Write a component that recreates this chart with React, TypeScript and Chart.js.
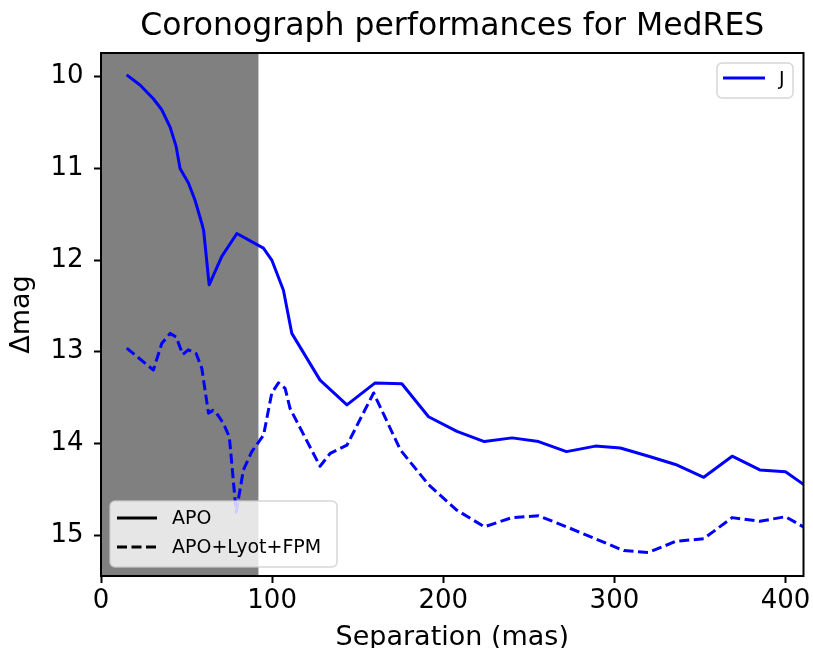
import React, { useEffect, useRef } from "react";
import { Chart, registerables } from "chart.js";

Chart.register(...registerables);

const titleText = "Coronograph performances for MedRES";
const xLabel = "Separation (mas)";
const yLabel = "Δmag";
const xTicks = [0, 100, 200, 300, 400];
const yTicks = [10, 11, 12, 13, 14, 15];
const xRange = [0, 410.5];
const yRange = [9.741, 15.447];
const maskedSeparation = 92;

// APO (solid)
const apoSep = [15, 22.8, 30.6, 35.5, 40.4, 43.9, 46.2, 51.1, 55, 58.9, 60, 63.2, 70.6, 79.4, 94.9, 99.8, 106.6, 111.5, 128, 143.7, 160.2, 175.8, 191.4, 208, 224, 240.2, 255.7, 272, 288.9, 303.5, 320, 335.7, 352.2, 368.8, 385, 400, 416];
const apoMag = [9.98, 10.09, 10.24, 10.36, 10.55, 10.76, 11.0, 11.16, 11.35, 11.6, 11.68, 12.27, 11.96, 11.71, 11.87, 12.0, 12.33, 12.8, 13.31, 13.58, 13.34, 13.35, 13.71, 13.87, 13.98, 13.94, 13.98, 14.09, 14.03, 14.05, 14.14, 14.23, 14.37, 14.14, 14.29, 14.31, 14.52];

// APO+Lyot+FPM (dashed)
const fpmSep = [15, 30.6, 35.5, 40.4, 43.9, 47.8, 51, 55.6, 58.9, 62.8, 65.5, 67.5, 71.5, 75, 79, 83.2, 88.1, 95, 99.8, 103.7, 107.6, 110.5, 128, 133.9, 143.7, 159.3, 174.9, 191.4, 208, 224, 240.2, 255.7, 272, 290, 305.5, 320, 335.7, 352.2, 368.8, 385, 400, 416];
const fpmMag = [12.96, 13.2, 12.91, 12.8, 12.84, 13.03, 12.98, 13.02, 13.18, 13.67, 13.64, 13.67, 13.78, 13.93, 14.75, 14.29, 14.09, 13.91, 13.45, 13.34, 13.4, 13.62, 14.25, 14.11, 14.02, 13.45, 14.07, 14.45, 14.73, 14.91, 14.81, 14.79, 14.91, 15.05, 15.17, 15.19, 15.07, 15.04, 14.81, 14.85, 14.8, 14.97];

const bandLegend = ["J"];
const styleLegend = ["APO", "APO+Lyot+FPM"];

const FONT = "'DejaVu Sans', sans-serif";
const BLUE = "#0000ff";
const LW = 3;
const DASH = [10, 4.5];

function legendBox(ctx: CanvasRenderingContext2D, x: number, y: number, w: number, h: number) {
  ctx.save();
  ctx.beginPath();
  (ctx as any).roundRect(x, y, w, h, 5);
  ctx.fillStyle = "rgba(255,255,255,0.8)";
  ctx.fill();
  ctx.strokeStyle = "rgba(204,204,204,0.8)";
  ctx.lineWidth = 1.5;
  ctx.stroke();
  ctx.restore();
}

const decorPlugin = {
  id: "decor",
  beforeDraw(chart: any) {
    const { ctx, chartArea: a, scales } = chart;
    const x0 = scales.x.getPixelForValue(0);
    const x1 = scales.x.getPixelForValue(maskedSeparation);
    ctx.save();
    ctx.fillStyle = "#808080";
    ctx.fillRect(x0, a.top, x1 - x0, a.bottom - a.top);
    ctx.restore();
  },
  afterDatasetsDraw(chart: any) {
    const { ctx, chartArea: a } = chart;
    ctx.save();
    ctx.font = `19px ${FONT}`;
    ctx.textBaseline = "middle";
    ctx.textAlign = "left";
    // band legend (upper right)
    const bw = 76, bh = 35;
    const bx = a.right - 10.5 - bw, by = a.top + 10;
    legendBox(ctx, bx, by, bw, bh);
    ctx.strokeStyle = BLUE;
    ctx.lineWidth = LW;
    ctx.beginPath();
    ctx.moveTo(bx + 6, by + 15);
    ctx.lineTo(bx + 48, by + 15);
    ctx.stroke();
    ctx.fillStyle = "#000";
    ctx.fillText(bandLegend[0], bx + 62, by + 17);
    // style legend (lower left)
    const lw = 227, lh = 66;
    const lx = a.left + 9, ly = a.bottom - 9 - lh;
    legendBox(ctx, lx, ly, lw, lh);
    ctx.strokeStyle = "#000";
    ctx.lineWidth = LW;
    ctx.beginPath();
    ctx.moveTo(lx + 7, ly + 17);
    ctx.lineTo(lx + 47, ly + 17);
    ctx.stroke();
    ctx.setLineDash(DASH);
    ctx.beginPath();
    ctx.moveTo(lx + 7, ly + 46);
    ctx.lineTo(lx + 47, ly + 46);
    ctx.stroke();
    ctx.setLineDash([]);
    ctx.fillStyle = "#000";
    ctx.fillText(styleLegend[0], lx + 62, ly + 18);
    ctx.fillText(styleLegend[1], lx + 62, ly + 47);
    ctx.restore();
  },
  afterDraw(chart: any) {
    const { ctx, chartArea: a } = chart;
    ctx.save();
    ctx.strokeStyle = "#000";
    ctx.lineWidth = 2;
    ctx.strokeRect(a.left, a.top, a.right - a.left, a.bottom - a.top);
    ctx.restore();
  },
};

export default function App() {
  const ref = useRef<HTMLCanvasElement | null>(null);
  useEffect(() => {
    if (!ref.current) return;
    const chart = new Chart(ref.current, {
      type: "line",
      data: {
        datasets: [
          {
            label: styleLegend[0],
            data: apoSep.map((x, i) => ({ x, y: apoMag[i] })),
            borderColor: BLUE,
            borderWidth: LW,
            pointRadius: 0,
            tension: 0,
            fill: false,
            borderJoinStyle: "round",
            clip: 0,
          },
          {
            label: styleLegend[1],
            data: fpmSep.map((x, i) => ({ x, y: fpmMag[i] })),
            borderColor: BLUE,
            borderWidth: LW,
            borderDash: DASH,
            pointRadius: 0,
            tension: 0,
            fill: false,
            borderJoinStyle: "round",
            clip: 0,
          },
        ],
      },
      options: {
        responsive: false,
        animation: false,
        events: [],
        layout: { padding: { left: 0, right: 9.5, top: 0, bottom: 0 } },
        plugins: {
          legend: { display: false },
          tooltip: { enabled: false },
          title: {
            display: true,
            text: titleText,
            fullSize: false,
            color: "#000",
            font: { family: FONT, size: 31.5, weight: "normal" },
            padding: { top: 8.4, bottom: 6.8 },
          },
        },
        scales: {
          x: {
            type: "linear",
            min: xRange[0],
            max: xRange[1],
            afterBuildTicks: (s: any) => {
              s.ticks = xTicks.map((v) => ({ value: v }));
            },
            afterFit: (s: any) => {
              s.height = 72;
              s.paddingLeft = 0;
              s.paddingRight = 0;
            },
            ticks: {
              color: "#000",
              font: { family: FONT, size: 26 },
              padding: 3,
              maxRotation: 0,
              autoSkip: false,
            },
            grid: {
              display: true,
              drawOnChartArea: false,
              drawTicks: true,
              tickLength: 7,
              tickWidth: 2,
              tickColor: "#000",
            },
            border: { display: false },
            title: {
              display: true,
              text: xLabel,
              color: "#000",
              font: { family: FONT, size: 27 },
              padding: { top: 0, bottom: -6 },
            },
          },
          y: {
            type: "linear",
            reverse: true,
            min: yRange[0],
            max: yRange[1],
            afterBuildTicks: (s: any) => {
              s.ticks = yTicks.map((v) => ({ value: v }));
            },
            afterFit: (s: any) => {
              s.width = 101;
              s.paddingTop = 0;
              s.paddingBottom = 0;
            },
            ticks: {
              color: "#000",
              font: { family: FONT, size: 26 },
              padding: 10.5,
              autoSkip: false,
            },
            grid: {
              display: true,
              drawOnChartArea: false,
              drawTicks: true,
              tickLength: 7,
              tickWidth: 2,
              tickColor: "#000",
            },
            border: { display: false },
            title: {
              display: true,
              text: yLabel,
              color: "#000",
              font: { family: FONT, size: 27 },
              padding: { top: 6.2, bottom: 0 },
            },
          },
        },
      } as any,
      plugins: [decorPlugin],
    });
    return () => chart.destroy();
  }, []);
  return (
    <div style={{ position: "absolute", left: 0, top: 0, width: 813, height: 648 }}>
      <canvas ref={ref} width={813} height={648} style={{ width: "813px", height: "648px", display: "block" }} />
    </div>
  );
}
